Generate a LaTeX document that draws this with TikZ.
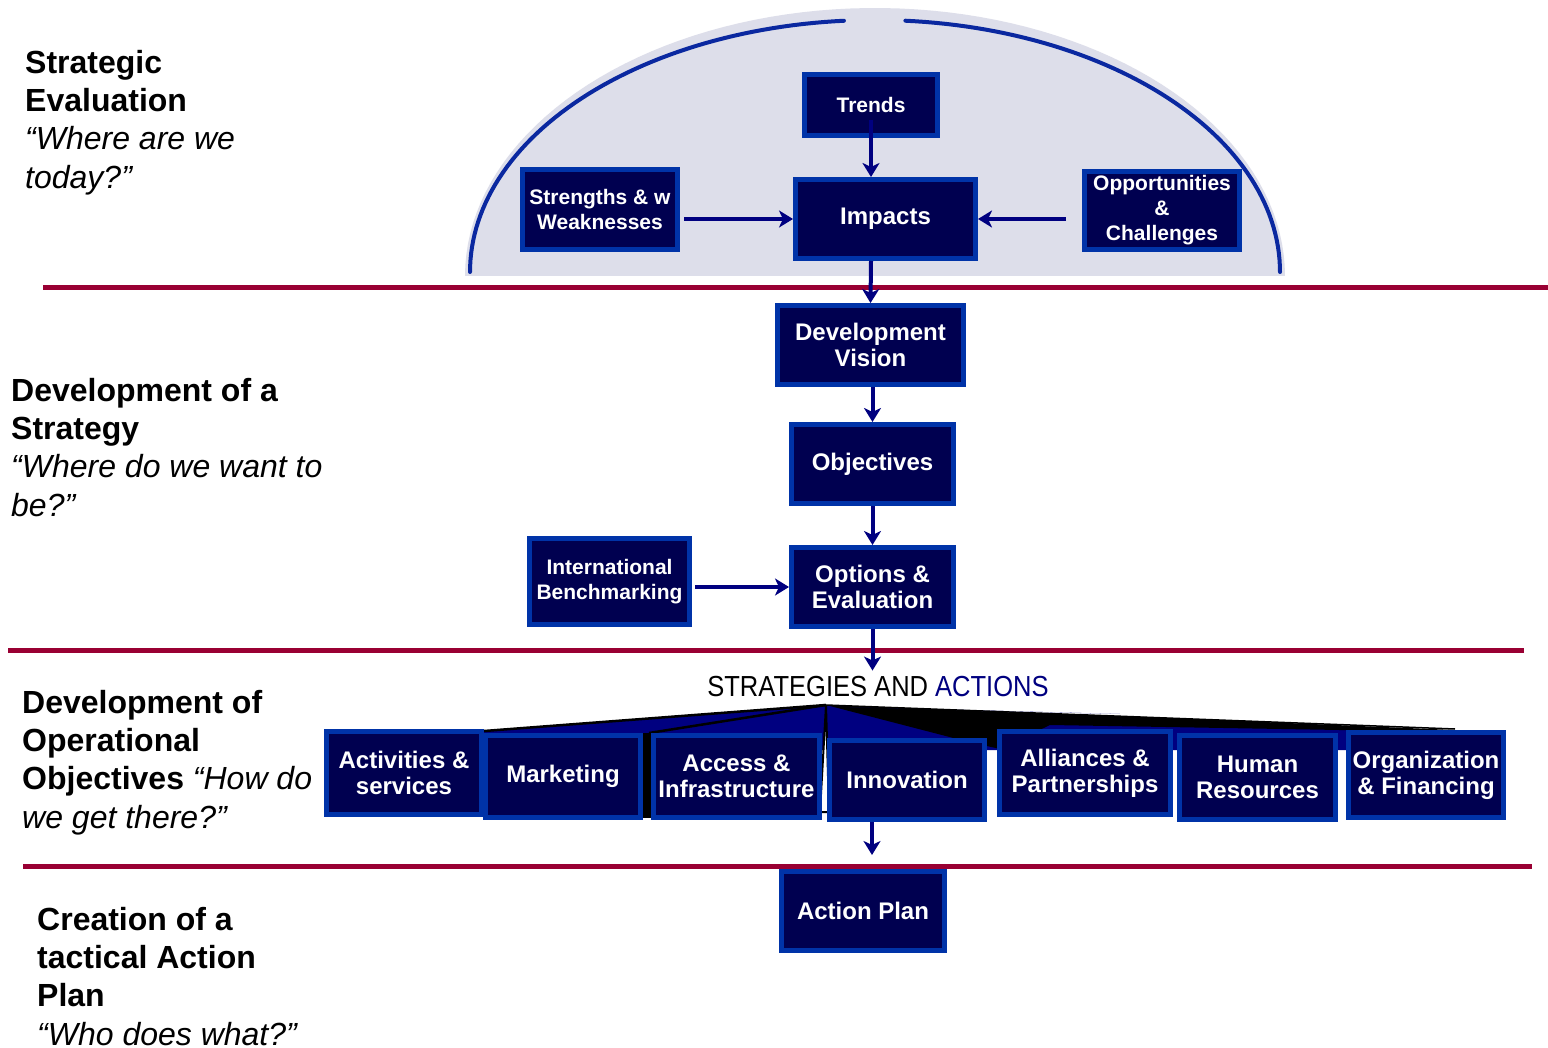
\documentclass[tikz,border=0pt]{standalone}
\usepackage{fontspec}
\setmainfont{Liberation Sans}
\newfontfamily\narrowsans[FakeStretch=0.88]{Liberation Sans}
\usetikzlibrary{arrows.meta}
\definecolor{maroonline}{HTML}{990033}
\definecolor{arrnavy}{HTML}{000080}
\definecolor{boxborder}{HTML}{0033A8}
\definecolor{boxdark}{HTML}{000050}
\definecolor{boxmid}{HTML}{000088}
\definecolor{domearc}{HTML}{0A28A0}
\definecolor{domemid}{HTML}{C2C5D9}
\definecolor{domelight}{HTML}{DDDEEA}
\tikzset{
  box/.style={draw=boxborder, line width=5pt, left color=boxdark, middle color=boxmid, right color=boxdark, shading angle=135,
    text=white, font=\bfseries\fontsize{24}{26}\selectfont, align=center, inner sep=0pt},
  boxs/.style={box, font=\bfseries\fontsize{21}{25}\selectfont},
  arr/.style={draw=arrnavy, line width=4pt, -{Stealth[length=14pt,width=17pt,inset=4pt]}},
  sepline/.style={draw=maroonline, line width=5pt},
  lbl/.style={anchor=north west, inner sep=0pt, align=left, font=\fontsize{32}{38.3}\selectfont},
  fanline/.style={draw=black, line width=2.5pt},
}
\begin{document}
\begin{tikzpicture}[x=1pt,y=-1pt]
\useasboundingbox (0,0) rectangle (1548,1048);
\fill[white] (0,0) rectangle (1548,1048);

% dome
\shade[left color=domelight, middle color=domemid, right color=domelight]
  plot[domain=180:0, samples=80] ({875+410*cos(\x)},{276-268*sin(\x)}) -- cycle;
\draw[domearc, line width=4pt, line cap=round]
  plot[domain=180:94.4, samples=60] ({875+405*cos(\x)},{272-252*sin(\x)});
\draw[domearc, line width=4pt, line cap=round]
  plot[domain=85.7:0, samples=60] ({875+405*cos(\x)},{272-252*sin(\x)});

% separator lines
\draw[sepline] (43,288) -- (1548,288);
\draw[sepline] (8,650) -- (1524,650);
\draw[sepline] (23,866) -- (1532,866);

% left labels
\node[lbl] (l1) at (25,50) {\textbf{Strategic}\\\textbf{Evaluation}\\\textit{“Where are we}\\\textit{today?”}};
\node[lbl] (l2) at (11,378) {\textbf{Development of a}\\\textbf{Strategy}\\\textit{“Where do we want to}\\\textit{be?”}};
\node[lbl] (l3) at (22,690) {\textbf{Development of}\\\textbf{Operational}\\\textbf{Objectives} \textit{“How do}\\\textit{we get there?”}};
\node[lbl] (l4) at (37,907) {\textbf{Creation of a}\\\textbf{tactical Action}\\\textbf{Plan}\\\textit{“Who does what?”}};

% strategies label
\node[inner sep=0pt, font=\narrowsans\fontsize{29}{32}\selectfont] (sa) at (878,687) {STRATEGIES AND \textcolor{arrnavy}{ACTIONS}};

% fan
\coordinate (apex) at (826,705);
\fill[arrnavy] (apex) -- (484,731) -- (484,750) -- (1455,750) -- (1455,731) -- cycle;
\fill[black] (apex) -- (1000,712) -- (1120,716) -- (1455,730) -- (1455,732) -- (1050,725) -- (1000,749) -- (965,741) -- cycle;
\fill[arrnavy] (850,707) -- (1120,714) -- (1000,711) -- cycle;
\draw[black, line width=1.5pt] (apex) -- (1455,729);
\fill[black] (643,733) rectangle (651,818);
\filldraw[fill=white, draw=black, line width=2pt] (apex) -- (820,812) -- (829,812) -- cycle;
\draw[fanline] (apex) -- (484,731);
\draw[fanline] (apex) -- (649,733);

% boxes
\node[boxs, minimum width=133pt, minimum height=61pt] (trends) at (871,105) {Trends};
\node[boxs, minimum width=155pt, minimum height=80pt] (sw) at (600,209.5) {Strengths \& w\\Weaknesses};
\node[box, minimum width=180pt, minimum height=79pt] (imp) at (885.5,219) {Impacts};
\node[boxs, minimum width=155pt, minimum height=78pt] (opp) at (1162,210.5) {Opportunities\\\&\\Challenges};
\node[box, minimum width=186pt, minimum height=79pt] (vis) at (870.5,345) {Development\\Vision};
\node[box, minimum width=162pt, minimum height=79pt] (obj) at (872.5,464) {Objectives};
\node[boxs, minimum width=160pt, minimum height=86pt] (ib) at (609.5,581.5) {International\\Benchmarking};
\node[box, minimum width=162pt, minimum height=79pt] (opt) at (872.5,587) {Options \&\\Evaluation};

\node[box, minimum width=155pt, minimum height=83pt] (act) at (404,773) {Activities \&\\services};
\node[box, minimum width=155pt, minimum height=82pt] (mkt) at (563,776.5) {Marketing};
\node[box, minimum width=166pt, minimum height=82pt] (acc) at (736.5,776.5) {Access \&\\Infrastructure};
\node[box, minimum width=155pt, minimum height=79pt] (inn) at (907,780) {Innovation};
\node[box, minimum width=171pt, minimum height=83pt] (all) at (1085,773) {Alliances \&\\Partnerships};
\node[box, minimum width=156pt, minimum height=84pt] (hr) at (1257.5,777.5) {Human\\Resources};
\node[box, minimum width=155pt, minimum height=85pt] (org) at (1426,775) {Organization\\\& Financing};
\node[box, minimum width=163pt, minimum height=79pt] (ap) at (863,911) {Action Plan};

% arrows
\draw[arr, shorten <=-18pt] (trends.south) -- (trends.south |- imp.north);
\draw[arr, shorten <=4pt] (sw.east |- imp.west) -- (imp.west);
\draw[arr, shorten <=16pt] (opp.west |- imp.east) -- (imp.east);
\draw[arr] (imp.south -| trends.south) -- (vis.north);
\draw[arr] (obj.north |- vis.south) -- (obj.north);
\draw[arr] (obj.south) -- (opt.north);
\draw[arr, shorten <=3pt] (ib.east |- opt.west) -- (opt.west);
\draw[arr, shorten >=6pt] (opt.south) -- (opt.south |- sa.north);
\coordinate (apin) at (872,855);
\draw[arr] (inn.south -| apin) -- (apin);
\end{tikzpicture}
\end{document}
